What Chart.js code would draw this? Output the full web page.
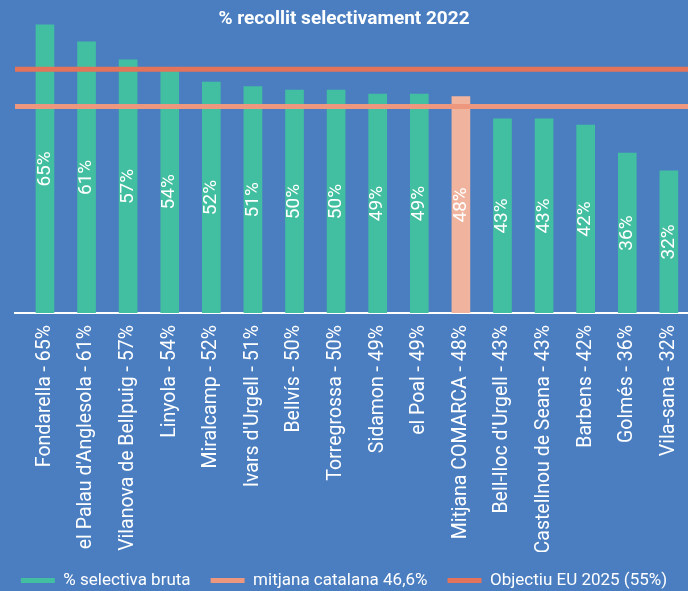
<!DOCTYPE html>
<html>
<head>
<meta charset="utf-8">
<script src="https://cdn.jsdelivr.net/npm/chart.js@4.4.1/dist/chart.umd.min.js"></script>
<style>
    html, body { margin: 0; padding: 0; background: #4a7ec0; }
    #wrap { width: 688px; height: 591px; }
</style>
</head>
<body>
<div id="wrap"><canvas id="selectivaChart"></canvas></div>
<script>
// dades
const municipis = [
    'Fondarella - 65%', "el Palau d'Anglesola - 61%", 'Vilanova de Bellpuig - 57%', 'Linyola - 54%',
    'Miralcamp - 52%', "Ivars d'Urgell - 51%", 'Bellvís - 50%', 'Torregrossa - 50%',
    'Sidamon - 49%', 'el Poal - 49%', 'Mitjana COMARCA - 48%', "Bell-lloc d'Urgell - 43%",
    'Castellnou de Seana - 43%', 'Barbens - 42%', 'Golmés - 36%', 'Vila-sana - 32%'
];
const selectivaBruta = [65.0, 61.2, 57.1, 54.7, 52.1, 51.1, 50.3, 50.3, 49.4, 49.4, 48.8, 43.8, 43.8, 42.4, 36.1, 32.1];
const mitjanaCatalana = 46.6;
const objectiuEU = 55;
const nomsSeries = ['% selectiva bruta', 'mitjana catalana 46,6%', 'Objectiu EU 2025 (55%)'];

const verd = '#42bfa0';
const salmo = '#f0b49e';
const colorMitjana = '#ec977e';
const colorObjectiu = '#e3735a';

// marges de l'eix x (en unitats d'index) perquè les línies arribin a les vores
const xMin = -0.72;
const xMax = 15.46;

Chart.defaults.font.family = 'Roboto, sans-serif';
Chart.defaults.color = '#ffffff';

const barColors = municipis.map(m => m.startsWith('Mitjana') ? salmo : verd);

// etiquetes dins les barres
const etiquetesBarres = {
    id: 'etiquetesBarres',
    afterDatasetsDraw(chart) {
        const ctx = chart.ctx;
        const meta = chart.getDatasetMeta(0);
        ctx.save();
        ctx.fillStyle = '#ffffff';
        ctx.font = '19px Roboto, sans-serif';
        ctx.textAlign = 'center';
        ctx.textBaseline = 'middle';
        meta.data.forEach((bar, i) => {
            ctx.save();
            ctx.translate(bar.x, (bar.y + bar.base) / 2);
            ctx.rotate(-Math.PI / 2);
            ctx.fillText(Math.floor(selectivaBruta[i]) + '%', 0, 0);
            ctx.restore();
        });
        ctx.restore();
    }
};

const data = {
    datasets: [{
        type: 'bar',
        label: nomsSeries[0],
        data: selectivaBruta.map((v, i) => ({ x: i, y: v })),
        backgroundColor: barColors,
        barThickness: 18,
        order: 2
    }, {
        type: 'line',
        label: nomsSeries[1],
        data: [{ x: xMin, y: mitjanaCatalana }, { x: xMax, y: mitjanaCatalana }],
        borderColor: colorMitjana,
        backgroundColor: colorMitjana,
        borderWidth: 5,
        pointRadius: 0,
        order: 1
    }, {
        type: 'line',
        label: nomsSeries[2],
        data: [{ x: xMin, y: objectiuEU }, { x: xMax, y: objectiuEU }],
        borderColor: colorObjectiu,
        backgroundColor: colorObjectiu,
        borderWidth: 5,
        pointRadius: 0,
        order: 1
    }]
};

const config = {
    type: 'bar',
    data: data,
    options: {
        responsive: true,
        maintainAspectRatio: false,
        animation: false,
        layout: { padding: { left: 0, right: 0, top: 0, bottom: -8 } },
        scales: {
            x: {
                type: 'linear',
                min: xMin,
                max: xMax,
                offset: false,
                grid: { display: false, drawTicks: false },
                border: { display: true, color: '#ffffff', width: 2 },
                afterBuildTicks: axis => {
                    axis.ticks = municipis.map((m, i) => ({ value: i }));
                },
                afterFit: axis => {
                    axis.height = 239;
                    axis.paddingLeft = 0;
                    axis.paddingRight = 0;
                },
                ticks: {
                    autoSkip: false,
                    minRotation: 90,
                    maxRotation: 90,
                    padding: 12,
                    color: '#ffffff',
                    font: { size: 19.5 },
                    callback: v => municipis[v]
                }
            },
            y: {
                display: true,
                min: 0,
                max: 65.2,
                grid: { display: false },
                border: { display: false },
                ticks: { display: false },
                afterFit: axis => { axis.width = 15; }
            }
        },
        plugins: {
            title: {
                display: true,
                text: '% recollit selectivament 2022',
                color: '#ffffff',
                font: { size: 19, weight: 'bold', lineHeight: 1 },
                padding: { top: 10, bottom: -5 }
            },
            legend: {
                position: 'bottom',
                labels: {
                    color: '#ffffff',
                    font: { size: 17 },
                    boxWidth: 34,
                    boxHeight: 5,
                    padding: 20,
                    sort: (a, b) => a.datasetIndex - b.datasetIndex,
                    generateLabels: chart => Chart.defaults.plugins.legend.labels.generateLabels(chart).map(item => {
                        const ds = chart.data.datasets[item.datasetIndex];
                        item.fillStyle = ds.type === 'bar' ? verd : ds.borderColor;
                        item.lineWidth = 0;
                        item.strokeStyle = 'transparent';
                        return item;
                    })
                }
            },
            tooltip: { enabled: false }
        }
    },
    plugins: [etiquetesBarres]
};

new Chart(document.getElementById('selectivaChart'), config);
</script>
</body>
</html>
